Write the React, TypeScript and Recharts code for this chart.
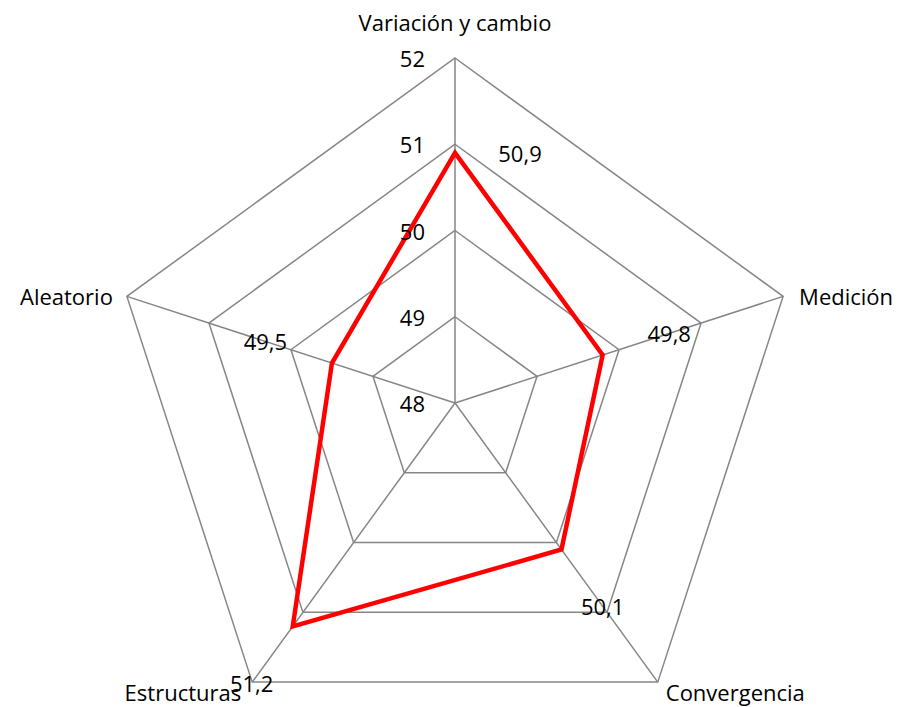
import { RadarChart, Radar, PolarGrid, PolarAngleAxis, PolarRadiusAxis, LabelList } from 'recharts';

const categories = ['Variación y cambio', 'Medición', 'Convergencia', 'Estructuras', 'Aleatorio'];
const values = [50.9, 49.8, 50.1, 51.2, 49.5];
const radiusTicks = [48, 49, 50, 51, 52];

const data = categories.map((name, i) => ({ name, value: values[i] }));

const CX = 447;
const CY = 395;
const R = 345;
const FONT = "'Open Sans', sans-serif";
const FS = 22;
const fmt = (v: number) => String(v).replace('.', ',');

function AngleTick(props: any) {
  const { payload } = props;
  const a = (payload.coordinate * Math.PI) / 180;
  const vx = CX + R * Math.cos(a);
  const vy = CY - R * Math.sin(a);
  const c = Math.cos(a);
  const s = Math.sin(a);
  let x = vx;
  let y = vy;
  let anchor: 'start' | 'middle' | 'end' = 'middle';
  if (s > 0.9) {
    y = vy - 36;
  } else if (s > 0) {
    x = c > 0 ? vx + 16 : vx - 14;
    anchor = c > 0 ? 'start' : 'end';
  } else {
    x = c > 0 ? vx + 8 : vx - 11;
    y = vy + 10;
    anchor = c > 0 ? 'start' : 'end';
  }
  return (
    <text x={x} y={y} textAnchor={anchor} dominantBaseline="central" fill="#000" fontSize={FS} fontFamily={FONT}>
      {payload.value}
    </text>
  );
}

function RadiusTick(props: any) {
  const { x, y, payload } = props;
  return (
    <text x={x - 30} y={y} textAnchor="end" dominantBaseline="central" fill="#000" fontSize={FS} fontFamily={FONT}>
      {payload.value}
    </text>
  );
}

function ValueLabel(props: any) {
  const { x, y, value } = props;
  const dx = x - CX;
  const dy = y - CY;
  const len = Math.sqrt(dx * dx + dy * dy) || 1;
  let lx = x + (dx / len) * 70;
  let ly = y + (dy / len) * 70;
  if (Math.abs(dx) < 1) {
    lx = x + 65;
    ly = y;
  }
  return (
    <text x={lx} y={ly} textAnchor="middle" dominantBaseline="central" fill="#000" fontSize={FS} fontFamily={FONT}>
      {fmt(value)}
    </text>
  );
}

export default function App() {
  return (
    <RadarChart
      width={893}
      height={699}
      cx={CX}
      cy={CY}
      outerRadius={R}
      data={data}
      style={{ overflow: 'visible' }}
    >
      <PolarGrid gridType="polygon" stroke="#868686" strokeWidth={1.5} />
      <PolarAngleAxis dataKey="name" tick={AngleTick} tickLine={false} axisLine={false} />
      <PolarRadiusAxis
        angle={90}
        domain={[48, 52]}
        ticks={radiusTicks}
        tickCount={5}
        axisLine={false}
        tickLine={false}
        tick={RadiusTick}
      />
      <Radar dataKey="value" stroke="#FF0000" strokeWidth={4.5} fill="none" fillOpacity={0} isAnimationActive={false}>
        <LabelList dataKey="value" content={ValueLabel} />
      </Radar>
    </RadarChart>
  );
}
